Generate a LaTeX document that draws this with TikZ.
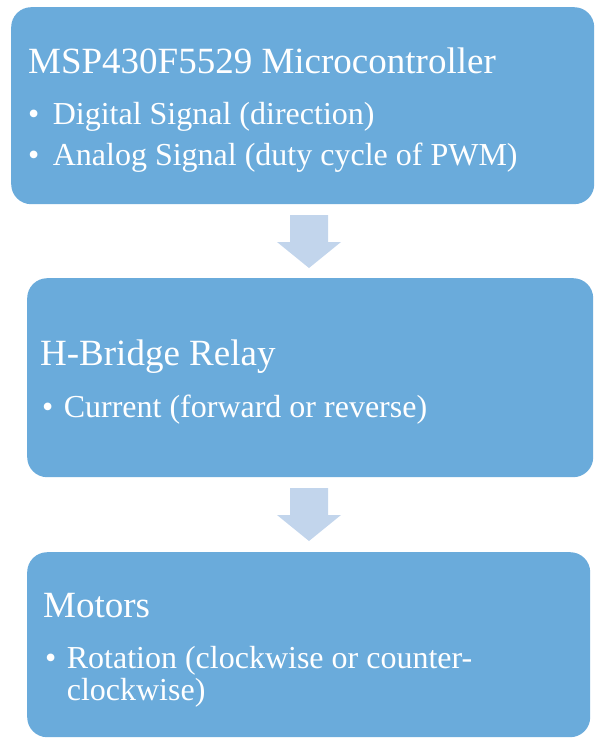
\documentclass[tikz,border=0pt]{standalone}
\usepackage{fontspec}
\setmainfont{Liberation Serif}
\usetikzlibrary{positioning}
\definecolor{boxblue}{RGB}{106,171,219}
\definecolor{flowblue}{RGB}{194,213,236}

\begin{document}
\begin{tikzpicture}[x=1pt, y=-1pt,
    block/.style={rectangle, rounded corners=20pt, fill=boxblue, inner sep=0pt, anchor=north west},
    head/.style={text=white, inner sep=0pt, anchor=base west, font=\fontsize{37}{44}\selectfont},
    item/.style={text=white, inner sep=0pt, anchor=base west, font=\fontsize{32}{40}\selectfont},
    flow/.style={fill=flowblue}]
                    \useasboundingbox (0,0) rectangle (595,739);

                    % the three blocks
                    \node[block, minimum width=583pt, minimum height=197pt] (mcu) at (11,7) {};
                    \node[block, minimum width=566pt, minimum height=199pt] (relay) at (27,278) {};
                    \node[block, minimum width=563pt, minimum height=185pt] (motors) at (27,552) {};

                    % texts
                    \node[head] (mcuhead) at (28,73) {MSP430F5529 Microcontroller};
                    \node[item] (mcubul1) at (28,124) {•};
                    \node[item, right=13pt of mcubul1.base east, anchor=base west] (mcuit1) {Digital Signal (direction)};
                    \node[item] (mcubul2) at (28,165) {•};
                    \node[item, right=13pt of mcubul2.base east, anchor=base west] (mcuit2) {Analog Signal (duty cycle of PWM)};

                    \node[head] (relayhead) at (40,365) {H-Bridge Relay};
                    \node[item] (relaybul) at (42,417) {•};
                    \node[item, right=10pt of relaybul.base east, anchor=base west] (relayit) {Current (forward or reverse)};

                    \node[head] (motorshead) at (43,617) {Motors};
                    \node[item] (motorsbul) at (45,668) {•};
                    \node[item, right=10pt of motorsbul.base east, anchor=base west] (motorsit) {Rotation (clockwise or counter-};
                    \node[item, below=32pt of motorsit.base west, anchor=base west] (motorsit2) {clockwise)};

                    % block arrows
                    \coordinate (flow1) at (309,215);
                    \coordinate (flow2) at (309,488);
                    \foreach \a in {flow1,flow2}
                        \fill[flow] (\a) +(-19,0) -- +(19,0) -- +(19,27) -- +(32,27) -- +(0,53) -- +(-32,27) -- +(-19,27) -- cycle;
                \end{tikzpicture}
\end{document}
